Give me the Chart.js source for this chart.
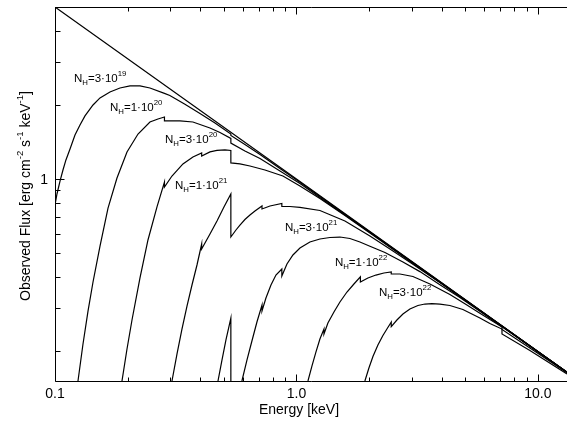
<!DOCTYPE html>
<html>
<head>
<meta charset="utf-8">
<script src="https://cdn.jsdelivr.net/npm/chart.js@4/dist/chart.umd.min.js"></script>
<style>
  html, body { margin: 0; padding: 0; background: #fff; }
  #wrap { position: relative; width: 567px; height: 424px; }
</style>
</head>
<body>
<div id="wrap"><canvas id="fluxChart"></canvas></div>
<script>
// unabsorbed power law
const energyPowerLaw = [0.1, 1.0, 13.2];
const fluxPowerLaw = [5.0, 1.0, 0.164];

// absorbed spectra, one pair of arrays per column density (edges = repeated energy)
const energyNH3e19 = [0.100, 0.1019, 0.1049, 0.1079, 0.1110, 0.1154, 0.1210, 0.1269, 0.1331, 0.1437, 0.1536, 0.1689, 0.1858, 0.2045, 0.2249, 0.2473, 0.284, 0.299, 0.3453, 0.3985, 0.4598, 0.535, 0.535, 0.6118, 0.7064, 0.8545, 1.034, 13.2];
const fluxNH3e19 = [0.784, 0.869, 0.981, 1.088, 1.195, 1.324, 1.509, 1.658, 1.804, 1.999, 2.135, 2.258, 2.343, 2.388, 2.388, 2.343, 2.227, 2.185, 2.012, 1.847, 1.689, 1.523, 1.503, 1.381, 1.258, 1.103, 0.9696, 0.164];

const energyNH1e20 = [0.1245, 0.1306, 0.1370, 0.1437, 0.1536, 0.1658, 0.1806, 0.1987, 0.2207, 0.2473, 0.2670, 0.284, 0.284, 0.3293, 0.3726, 0.4384, 0.4822, 0.535, 0.535, 0.6118, 0.7064, 0.8545, 1.034, 1.376, 2.015, 13.2];
const fluxNH1e20 = [0.151, 0.2135, 0.2906, 0.3814, 0.534, 0.762, 1.009, 1.288, 1.523, 1.705, 1.753, 1.786, 1.721, 1.721, 1.705, 1.612, 1.545, 1.461, 1.400, 1.300, 1.211, 1.078, 0.9587, 0.7875, 0.607, 0.164];

const energyNH3e20 = [0.1894, 0.1987, 0.2084, 0.2249, 0.2427, 0.2645, 0.284, 0.284, 0.3051, 0.3388, 0.3726, 0.405, 0.405, 0.4384, 0.4687, 0.5057, 0.535, 0.535, 0.5834, 0.6419, 0.7406, 0.879, 1.034, 1.251, 1.588, 2.015, 13.2];
const fluxNH3e20 = [0.151, 0.2037, 0.2672, 0.396, 0.565, 0.770, 0.972, 0.928, 1.028, 1.151, 1.229, 1.276, 1.240, 1.288, 1.306, 1.312, 1.306, 1.162, 1.151, 1.129, 1.088, 1.028, 0.936, 0.8331, 0.7103, 0.603, 0.164];

const energyNH1e21 = [0.3051, 0.3200, 0.3356, 0.3521, 0.3693, 0.3873, 0.405, 0.405, 0.4384, 0.4687, 0.5009, 0.535, 0.535, 0.5617, 0.5834, 0.6118, 0.6419, 0.6732, 0.72, 0.72, 0.7768, 0.87, 0.87, 0.9399, 1.034, 1.251, 1.588, 2.015, 2.439, 2.951, 3.928, 5.752, 13.2];
const fluxNH1e21 = [0.151, 0.1943, 0.2456, 0.3046, 0.3708, 0.4471, 0.5441, 0.5193, 0.5977, 0.6752, 0.7694, 0.869, 0.581, 0.6204, 0.650, 0.6844, 0.7142, 0.7412, 0.7767, 0.7551, 0.7767, 0.7952, 0.7731, 0.7731, 0.766, 0.7446, 0.6752, 0.5866, 0.5193, 0.4586, 0.3796, 0.2923, 0.164];

const energyNH3e21 = [0.4732, 0.4915, 0.5106, 0.535, 0.535, 0.56, 0.5945, 0.6237, 0.654, 0.6861, 0.72, 0.72, 0.7476, 0.7843, 0.8224, 0.87, 0.87, 0.9135, 0.9672, 1.034, 1.137, 1.251, 1.376, 1.514, 1.665, 1.832, 2.015, 2.326, 2.761, 3.246, 3.928, 4.753, 5.752, 13.2];
const fluxNH3e21 = [0.151, 0.1837, 0.222, 0.272, 0.151, null, 0.151, 0.1837, 0.2196, 0.2622, 0.3074, 0.2906, 0.3283, 0.3708, 0.407, 0.4306, 0.4034, 0.4512, 0.491, 0.524, 0.5545, 0.5703, 0.5783, 0.5809, 0.5729, 0.5545, 0.5331, 0.5028, 0.4599, 0.4203, 0.3715, 0.3298, 0.2899, 0.164];

const energyNH1e22 = [1.116, 1.159, 1.204, 1.251, 1.30, 1.30, 1.350, 1.430, 1.514, 1.619, 1.730, 1.84, 1.84, 1.977, 2.134, 2.303, 2.47, 2.47, 2.683, 3.037, 3.572, 4.321, 4.986, 5.752, 7.1, 7.1, 9.267, 13.2];
const fluxNH1e22 = [0.151, 0.1737, 0.198, 0.2237, 0.2456, 0.2344, 0.260, 0.288, 0.3162, 0.3473, 0.3743, 0.400, 0.381, 0.396, 0.407, 0.4148, 0.419, 0.411, 0.411, 0.4015, 0.3743, 0.3393, 0.3112, 0.2848, 0.2502, 0.2444, 0.2056, 0.163];

const energyNH3e22 = [1.921, 1.996, 2.074, 2.175, 2.281, 2.370, 2.47, 2.47, 2.607, 2.761, 2.951, 3.185, 3.405, 3.640, 3.928, 4.321, 4.891, 5.752, 6.327, 7.1, 7.1, 9.267, 13.2];
const fluxNH3e22 = [0.151, 0.1705, 0.1899, 0.2114, 0.2311, 0.2456, 0.2622, 0.2514, 0.2672, 0.2826, 0.296, 0.3060, 0.3103, 0.3117, 0.3103, 0.3060, 0.2947, 0.2723, 0.2586, 0.2456, 0.2344, 0.2009, 0.1612];

// curve labels: N_H = mantissa·10^exponent
const nhMantissa = ["3", "1", "3", "1", "3", "1", "3"];
const nhExponent = ["19", "20", "20", "21", "21", "22", "22"];

// axes
const xTickMajor = [0.1, 1, 10];
const xTickLabels = ["0.1", "1.0", "10.0"];
const xTickMinor = [0.2, 0.3, 0.4, 0.5, 0.6, 0.7, 0.8, 0.9, 2, 3, 4, 5, 6, 7, 8, 9];
const yTickMajor = [1];
const yTickLabels = ["1"];
const yTickMinor = [0.2, 0.3, 0.4, 0.5, 0.6, 0.7, 0.8, 0.9, 2, 3, 4, 5];

const FONT = '"Liberation Sans", Arial, Helvetica, sans-serif';

function toPoints(es, fs) {
  return es.map((e, i) => ({ x: e, y: fs[i] }));
}

function curve(es, fs) {
  return {
    data: toPoints(es, fs),
    borderColor: "#000",
    borderWidth: 1.2,
    pointRadius: 0,
    tension: 0,
    fill: false,
    spanGaps: false
  };
}

// where each label sits (left edge, vertical middle), in data units
const labelAnchors = [
  { x: 0.1199, y: 2.55 },
  { x: 0.169, y: 1.944 },
  { x: 0.2854, y: 1.441 },
  { x: 0.314, y: 0.937 },
  { x: 0.896, y: 0.632 },
  { x: 1.443, y: 0.4555 },
  { x: 2.196, y: 0.344 }
];

// draws text made of normal / sub / sup pieces, returns width
function richText(ctx, x, y, parts, size, dryRun) {
  let cx = x;
  parts.forEach(([text, mode]) => {
    const s = mode === "n" ? size : size * 0.68;
    const dy = mode === "sub" ? size * 0.32 : mode === "sup" ? -size * 0.42 : 0;
    ctx.font = `${s}px ${FONT}`;
    if (!dryRun) ctx.fillText(text, cx, y + dy);
    cx += ctx.measureText(text).width;
  });
  return cx - x;
}

const framePlugin = {
  id: "frame",
  afterDatasetsDraw(chart) {
    const { ctx, chartArea: a, scales: { x, y } } = chart;
    ctx.save();
    ctx.strokeStyle = "#000";
    ctx.fillStyle = "#000";
    ctx.lineWidth = 1;

    ctx.beginPath();
    ctx.moveTo(a.right + 2, a.top + 0.5);
    ctx.lineTo(a.left + 0.5, a.top + 0.5);
    ctx.lineTo(a.left + 0.5, a.bottom + 0.5);
    ctx.lineTo(a.right + 2, a.bottom + 0.5);
    ctx.stroke();

    // inward ticks on bottom and top
    const xTick = (v, len) => {
      const px = Math.round(x.getPixelForValue(v)) + 0.5;
      ctx.moveTo(px, a.bottom + 0.5); ctx.lineTo(px, a.bottom + 0.5 - len);
      ctx.moveTo(px, a.top + 0.5); ctx.lineTo(px, a.top + 0.5 + len);
    };
    const yTick = (v, len) => {
      const py = Math.round(y.getPixelForValue(v)) + 0.5;
      ctx.moveTo(a.left + 0.5, py); ctx.lineTo(a.left + 0.5 + len, py);
    };
    ctx.beginPath();
    xTickMajor.forEach(v => xTick(v, 7));
    xTickMinor.forEach(v => xTick(v, 4));
    yTickMajor.forEach(v => yTick(v, 9));
    yTickMinor.forEach(v => yTick(v, 5));
    ctx.stroke();

    // tick labels
    ctx.font = `14px ${FONT}`;
    ctx.textBaseline = "middle";
    ctx.textAlign = "center";
    xTickMajor.forEach((v, i) => {
      ctx.fillText(xTickLabels[i], x.getPixelForValue(v), a.bottom + 13);
    });
    ctx.textAlign = "right";
    yTickMajor.forEach((v, i) => {
      ctx.fillText(yTickLabels[i], a.left - 7, y.getPixelForValue(v) + 1);
    });

    // axis titles
    ctx.textAlign = "center";
    ctx.font = `14px ${FONT}`;
    ctx.fillText("Energy [keV]", a.left + 244, a.bottom + 29);

    ctx.textAlign = "left";
    const yTitle = [
      ["Observed Flux [erg cm", "n"], ["-2", "sup"], [" s", "n"], ["-1", "sup"],
      [" keV", "n"], ["-1", "sup"], ["]", "n"]
    ];
    ctx.save();
    ctx.translate(a.left - 29, a.top + 189);
    ctx.rotate(-Math.PI / 2);
    const w = richText(ctx, 0, 0, yTitle, 14, true);
    richText(ctx, -w / 2, 0, yTitle, 14, false);
    ctx.restore();

    // curve labels
    labelAnchors.forEach((p, i) => {
      const parts = [["N", "n"], ["H", "sub"], ["=" + nhMantissa[i] + "\u00B710", "n"], [nhExponent[i], "sup"]];
      richText(ctx, x.getPixelForValue(p.x), y.getPixelForValue(p.y), parts, 11.5, false);
    });
    ctx.restore();
  }
};

new Chart(document.getElementById("fluxChart"), {
  type: "line",
  data: {
    datasets: [
      curve(energyPowerLaw, fluxPowerLaw),
      curve(energyNH3e19, fluxNH3e19),
      curve(energyNH1e20, fluxNH1e20),
      curve(energyNH3e20, fluxNH3e20),
      curve(energyNH1e21, fluxNH1e21),
      curve(energyNH3e21, fluxNH3e21),
      curve(energyNH1e22, fluxNH1e22),
      curve(energyNH3e22, fluxNH3e22)
    ]
  },
  options: {
    responsive: true,
    maintainAspectRatio: false,
    animation: false,
    layout: { padding: { left: 55, top: 7, right: 0, bottom: 43 } },
    scales: {
      x: { type: "logarithmic", min: 0.1, max: 13.2, display: false },
      y: { type: "logarithmic", min: 0.151, max: 5.0, display: false }
    },
    plugins: {
      legend: { display: false },
      tooltip: { enabled: false }
    }
  },
  plugins: [framePlugin]
});
</script>
</body>
</html>
